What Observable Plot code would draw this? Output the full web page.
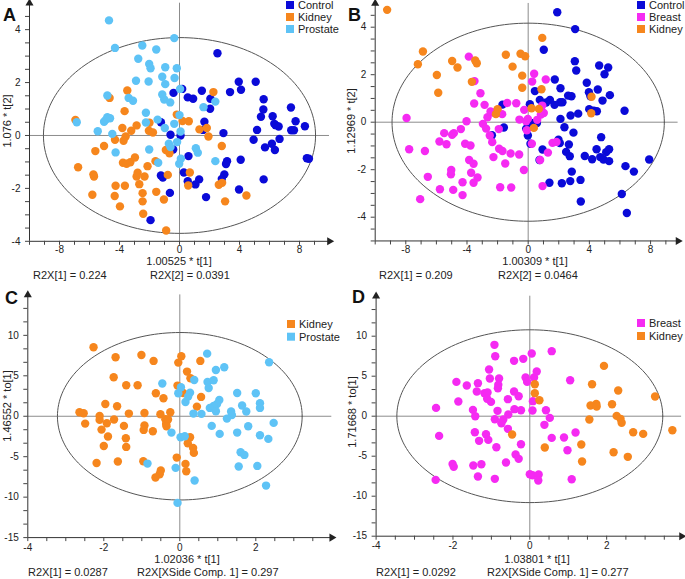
<!DOCTYPE html>
<html><head><meta charset="utf-8">
<script src="https://cdn.jsdelivr.net/npm/d3@7"></script>
<script src="https://cdn.jsdelivr.net/npm/@observablehq/plot@0.6"></script>
<style>
body{margin:0;background:#fff;}
#fig{position:relative;width:685px;height:579px;overflow:hidden;font-family:Arial,"Liberation Sans",sans-serif;}
.panel{position:absolute;}
#overlay{position:absolute;left:0;top:0;pointer-events:none;}
</style></head><body><div id="fig"></div>
<script>
// ---------- DATA (x, y score values) ----------
const aControl = [[2.53,3.11],[-0.40,1.61],[0.18,1.76],[0.55,1.44],[0.91,1.39],[1.49,1.69],[2.06,1.39],[2.04,1.01],[1.66,0.52],[1.57,0.21],[2.93,0.09],[3.37,1.64],[3.95,2.03],[4.10,1.73],[5.08,2.03],[5.61,1.37],[5.59,0.98],[5.43,0.71],[5.17,0.21],[4.94,-0.16],[6.21,0.73],[6.32,0.44],[6.41,0.39],[6.61,0.34],[6.67,-0.13],[7.43,1.06],[7.74,0.54],[7.45,0.20],[7.63,0.20],[8.36,0.35],[5.70,-0.45],[6.16,-0.31],[6.36,-0.55],[8.49,-0.86],[8.63,-0.88],[4.08,-0.92],[3.17,-0.97],[3.10,-1.08],[2.99,-1.47],[2.82,-1.64],[1.31,-1.66],[1.06,-1.85],[0.55,-1.73],[0.29,-1.40],[1.77,-2.33],[3.97,-2.04],[5.61,-1.66],[-1.24,0.50],[-0.60,0.03],[-0.42,-0.53],[0.07,0],[0.60,-0.78],[-1.11,-1.59],[-0.64,-2.17],[-1.93,-3.20],[-1.24,-1.51]];
const aKidney = [[-6.94,0.59],[-3.48,1.70],[-4.66,1.42],[-3.66,0.92],[-2.86,0.38],[-3.81,0.28],[-3.22,0.18],[-2.00,0.48],[-2.04,0.18],[-1.77,0.11],[-3.59,-0.04],[-4.30,-0.16],[-3.73,-0.20],[-5.03,-0.40],[-5.61,-0.59],[-6.76,-1.20],[-5.74,-1.47],[-5.70,-1.55],[-3.77,-1.03],[-3.53,-1.07],[-3.28,-1.01],[-2.97,-0.83],[-2.79,-1.41],[-2.86,-1.55],[-2.13,-1.16],[-1.60,-0.97],[-2.33,-1.55],[-2.68,-1.84],[-4.26,-1.90],[-3.64,-1.90],[-5.81,-2.24],[-4.32,-2.29],[-2.46,-2.18],[-2.46,-2.49],[-1.55,-2.13],[-1.04,-2.42],[-3.97,-2.68],[-2.42,-2.96],[-0.89,-3.59],[-0.78,-1.49],[-0.91,-0.55],[-0.67,-0.67],[-0.18,0.79],[0.20,0.55],[0.62,0.54],[1.33,0.23],[1.82,0.28],[1.93,-0.04],[2.26,1.64],[2.82,-0.40],[0.69,-1.40],[0.58,-1.89],[2.62,-1.86],[2.84,-1.79],[3.04,-2.49],[4.46,-2.27]];
const aProstate = [[-4.70,4.35],[-4.30,3.31],[-2.48,3.40],[-1.55,3.25],[-0.35,3.68],[-2.75,2.90],[-2.02,2.70],[-1.93,2.54],[-0.95,2.58],[-0.18,2.54],[-1.15,2.22],[-0.33,2.17],[-2.90,2.07],[-2.06,2.04],[-0.95,1.94],[0.04,1.76],[-4.81,1.51],[-3.39,1.42],[-3.10,1.31],[-1.15,1.55],[-1.02,1.36],[-0.62,1.25],[-2.24,0.86],[1.60,1.07],[2.39,1.28],[-6.85,0.50],[-5.03,0.52],[-4.81,0.69],[-4.63,0.65],[-4.92,0.59],[-1.46,0.60],[-2.24,0.49],[-0.98,0.28],[-0.35,0.44],[0,0.77],[-5.45,0.16],[-4.48,0.06],[0.07,0.15],[-4.26,-0.64],[-2.02,-0.53],[-0.71,-0.31],[-0.16,-0.25],[-0.60,-0.44],[1.09,-0.48],[1.22,-0.65],[-1.42,-1.03],[0.09,-0.88],[-0.02,-1.07],[2.39,-0.97]];

const bControl = [[1.90,4.63],[3.07,3.92],[1.02,3.05],[3.05,2.57],[3.14,2.18],[4.64,2.39],[5.23,2.30],[4.99,2.02],[3.83,1.66],[4.55,1.38],[3.97,1.26],[4.07,1.09],[4.86,0.91],[5.34,1.14],[3.99,0.55],[4.29,0.48],[4.49,0.46],[6.30,0.48],[1.74,1.80],[2.11,1.43],[1.42,0.94],[0.76,0.94],[0.44,1.31],[0.57,-0.03],[0.11,0.76],[0.20,-0.03],[-0.13,-0.27],[-0.02,-0.56],[-1.68,0.74],[-1.59,-0.22],[-2.37,-0.55],[0.15,-0.91],[0.94,-1.15],[0.74,-1.59],[1.98,-0.74],[2.07,-0.88],[2.09,0.84],[2.24,0.84],[2.11,0.14],[2.61,1.12],[2.83,1.09],[2.77,0.28],[3.27,0.36],[2.37,-0.21],[2.96,-0.44],[2.66,-0.94],[2.48,-1.25],[2.72,-1.43],[2.85,-2.08],[2.75,-2.48],[2.20,-2.57],[1.39,-2.55],[3.42,-2.43],[3.44,-3.34],[3.70,-1.42],[4.18,-1.56],[4.47,-1.14],[4.77,-0.63],[4.71,-1.47],[4.92,-1.57],[5.10,-1.26],[5.29,-1.14],[5.29,-1.64],[7.91,-1.57],[6.36,-1.85],[6.91,-2.08],[6.12,-3.02],[6.45,-3.82],[1.18,0.83],[1.72,0.73]];
const bBreast = [[-3.88,2.76],[-3.51,1.73],[-3.12,1.22],[-3.53,0.79],[-2.85,0.73],[0.39,2.04],[0.26,1.71],[1.15,1.80],[0.92,0.70],[1.02,0.39],[-0.78,0.80],[-0.26,0.52],[-1.37,0.81],[-1.70,0.34],[-2.33,0.41],[-2.66,0.21],[-2.46,0.45],[-4.03,0.04],[-2.96,-0.07],[-7.95,0.18],[-7.78,-1.14],[-6.75,-1.21],[-5.80,-0.81],[-5.49,-0.46],[-5.34,-0.93],[-4.97,-0.53],[-4.86,-0.46],[-4.40,-0.29],[-4.12,-0.91],[-3.77,-0.98],[-3.86,-1.59],[-3.57,-1.75],[-3.73,-2.13],[-3.31,-2.33],[-5.03,-2.01],[-5.05,-2.19],[-4.29,-2.53],[-3.57,-2.55],[-6.56,-2.30],[-5.77,-2.82],[-4.90,-2.85],[-4.29,-3.07],[-7.06,-3.24],[-2.75,-0.27],[-2.51,-0.56],[-2.35,-0.84],[-2.27,-1.47],[-1.90,-1.12],[-1.68,-1.21],[-1.50,-1.74],[-1.15,-1.32],[-0.59,-1.36],[-0.28,-2.01],[-1.83,-2.74],[-1.11,-2.75],[0.94,-2.69],[0.78,-1.59],[1.29,-1.28],[0.24,-0.91],[-0.09,-0.34],[-0.57,0.11],[-0.13,0.04],[1.59,-0.87],[1.85,-0.83],[-0.02,0.14],[0.59,0.10],[0.83,0.32],[-1.92,-0.29]];
const bKidney = [[-9.22,4.73],[-6.88,2.98],[-7.21,2.44],[-4.97,2.58],[-4.62,2.30],[-3.46,2.60],[-3.36,2.48],[-5.97,1.99],[-5.88,1.24],[-3.68,1.70],[-1.46,2.84],[-0.50,2.88],[-0.20,2.78],[-1.02,2.34],[-0.39,1.96],[-0.39,1.45],[0.92,3.55],[0.87,1.39],[-2.00,0.55],[-2.11,0.34],[0.22,0.59],[0.70,0.56],[0.37,-0.24],[4.14,1.07],[4.12,0.38]];

const cKidney = [[-2.27,8.53],[-1.69,7.29],[-1.01,7.58],[-0.69,6.84],[-1.74,4.82],[-1.41,3.83],[-1.11,3.83],[-0.63,2.84],[-0.43,2.22],[-1.96,1.52],[-1.65,1.24],[-2.64,0.49],[-2.53,0.37],[-2.11,0.04],[-1.34,0.33],[-0.93,0.41],[-0.51,0.25],[-0.25,0.49],[-2.49,-0.91],[-2.11,-0.45],[-1.73,-0.41],[-1.92,-0.86],[-1.47,-1.19],[-2.06,-1.65],[-0.93,-1.15],[-0.95,-1.69],[-0.71,-1.85],[-0.38,-0.37],[-0.36,-0.95],[-0.31,-0.41],[-1.89,-2.51],[-1.42,-2.72],[-1.41,-3.79],[-2.00,-3.67],[-2.19,-5.77],[-1.63,-5.60],[-0.96,-5.56],[-0.50,-6.71],[-0.53,-7.17],[-0.64,-7.58],[-0.08,-5.11],[0.15,-5.89],[0.17,-6.80],[0.04,7.41],[-0.04,6.63],[0.54,6.84],[0.19,5.52],[0.28,4.70],[-0.06,3.79],[0.09,2.88],[0.56,2.39],[0.45,1.19],[0.27,-2.59],[0.21,-3.34],[0.35,-3.91],[0.37,-4.53],[-0.35,-1.24]];
const cProstate = [[0.72,7.74],[0.95,5.72],[1.17,6.05],[0.73,4.24],[0.76,3.50],[0.89,4.45],[0.38,4.49],[-0.46,4.04],[0.03,3.58],[-0.04,2.84],[0.27,2.92],[0.22,2.43],[0.15,1.77],[1.04,2.02],[0.98,1.52],[0.89,1.28],[0.79,1.03],[0.95,0.62],[1.51,2.88],[1.64,1.32],[1.75,0.58],[1.35,0.58],[1.37,0.16],[1.24,-0.29],[2.00,2.84],[2.11,1.61],[2.11,1.03],[2.35,6.67],[0.57,0.29],[0.36,0.33],[2.47,-0.82],[0.84,-1.19],[1.05,-2.18],[1.51,-2.02],[1.80,-1.24],[2.11,-2.35],[2.33,-2.80],[-0.22,-2.02],[0.02,-2.59],[0.13,-2.47],[1.60,-4.45],[1.70,-4.78],[1.55,-6.22],[2.04,-6.14],[2.27,-8.57],[-0.85,-5.85],[-0.11,-6.38],[0.39,-7.95],[-0.06,-10.71]];

const dBreast = [[-0.92,8.92],[-0.90,7.50],[-0.41,6.92],[-0.17,7.17],[0.05,7.83],[0.57,8.13],[-1.06,5.83],[-1.04,4.71],[-0.80,4.71],[-0.82,3.92],[-0.83,3.50],[-1.91,4.29],[-1.64,3.83],[-1.35,4.13],[-1.38,3.08],[-1.18,2.88],[-1.10,2.96],[-1.11,2.17],[-1.01,1.79],[-1.86,1.83],[-2.44,1.04],[-1.48,0.79],[-1.42,0],[-0.84,0.67],[-0.91,-0.38],[-0.69,-0.42],[-0.74,-0.88],[-0.57,2.13],[-0.41,3.08],[-0.29,2.50],[-0.40,0.88],[-0.56,0.21],[-0.23,0.75],[-0.11,4.83],[-0.07,4.29],[0.11,4.83],[0.18,5.58],[0.08,1.88],[0.07,0.71],[0.42,0.75],[0.52,-0.21],[0.38,-1.08],[0.57,-2.71],[1.05,4.50],[-1.43,-2.00],[-1.32,-3.08],[-1.14,-2.25],[-1.08,-2.96],[-0.57,-1.58],[-0.87,-3.88],[-0.23,-3.50],[-0.37,-4.79],[-0.29,-5.33],[-2.36,-2.46],[-2.01,-5.96],[-1.98,-6.33],[-1.47,-6.17],[-1.26,-6.00],[-1.35,-7.54],[-0.91,-7.83],[-0.62,-5.79],[-2.45,-7.96],[0,-7.25],[0.07,-7.38],[0.23,-7.29],[0.22,-8.04],[0.98,-4.25],[1.09,-7.88],[0.89,-2.67],[1.19,-2.04]];
const dKidney = [[0.13,4.00],[0.13,2.88],[0.25,2.00],[-0.46,-2.29],[0.39,-3.92],[1.34,-3.54],[1.36,-5.67],[1.62,4.00],[1.58,1.33],[1.73,1.54],[1.74,1.21],[1.55,-0.42],[1.93,6.29],[2.14,1.50],[2.30,3.21],[2.26,0.04],[2.36,-0.33],[2.39,-0.83],[2.69,-2.00],[2.95,-2.21],[3.26,2.46],[3.71,-1.75],[2.18,-4.50],[2.55,-5.08]];

// group names per panel (legend order = draw order)
const groupsA = ["Control", "Kidney", "Prostate"];
const groupsB = ["Control", "Breast", "Kidney"];
const groupsC = ["Kidney", "Prostate"];
const groupsD = ["Breast", "Kidney"];

// Hotelling T2 ellipse radii [x, y]
const ellipseA = [9.07, 3.70];
const ellipseB = [8.90, 4.17];
const ellipseC = [3.22, 10.35];
const ellipseD = [3.46, 10.80];

// axis titles and fit statistics
const xTitles = ["1.00525 * t[1]", "1.00309 * t[1]", "1.02036 * t[1]", "1.03801 * t[1]"];
const yTitles = ["1.076 * t[2]", "1.12969 * t[2]", "1.46552 * to[1]", "1.71668 * to[1]"];
const r2Left = ["R2X[1] = 0.224", "R2X[1] = 0.209", "R2X[1] = 0.0287", "R2X[1] = 0.0292"];
const r2Right = ["R2X[2] = 0.0391", "R2X[2] = 0.0464", "R2X[XSide Comp. 1] = 0.297", "R2X[XSide Comp. 1] = 0.277"];
const panelLetters = ["A", "B", "C", "D"];

// ---------- STYLE / LAYOUT ----------
const colors = {Control: "#0a0ad8", Kidney: "#f6861d", Prostate: "#5ec3f6", Breast: "#f52af2"};
const font = 'Arial, "Liberation Sans", sans-serif';

const panels = [
  {left: 0, top: 0, width: 342, height: 290, x: [-10, 10], y: [-4, 5], m: [2.7, 13, 49.2, 29], pad: 0.8,
   xStep: 1, xLab: 4, yStep: 0.5, yLab: 2, ell: ellipseA, groups: groupsA, data: [aControl, aKidney, aProstate]},
  {left: 340, top: 0, width: 345, height: 290, x: [-10, 9.8], y: [-5, 5], m: [2.95, 7.4, 49.55, 34.7], pad: 0.8,
   xStep: 1, xLab: 4, yStep: 0.5, yLab: 2, ell: ellipseB, groups: groupsB, data: [bControl, bBreast, bKidney]},
  {left: 0, top: 285, width: 342, height: 294, x: [-4, 4], y: [-15, 15], m: [9.4, 10.7, 41.9, 27.3], pad: 1.8,
   xStep: 0.5, xLab: 2, yStep: 5/3, yLab: 5, ell: ellipseC, groups: groupsC, data: [cKidney, cProstate]},
  {left: 340, top: 285, width: 345, height: 294, x: [-4, 3.95], y: [-15, 15], m: [10.7, 3.9, 43.3, 35.6], pad: 1.8,
   xStep: 0.5, xLab: 2, yStep: 5/3, yLab: 5, ell: ellipseD, groups: groupsD, data: [dBreast, dKidney]}
];

const fig = document.getElementById("fig");

function tickValues(lo, hi, step) {
  const n = Math.floor((hi - lo) / step + 1e-9);
  return d3.range(0, n + 1).map(i => +(lo + i * step).toFixed(6)).filter(v => v < hi - 1e-9);
}
function labelFmt(lab) {
  return d => Math.abs(d / lab - Math.round(d / lab)) < 1e-6 ? String(Math.round(d)) : "";
}

panels.forEach(p => {
  const ell = d3.range(0, 361, 2).map(a => ({x: p.ell[0] * Math.cos(a * Math.PI / 180), y: p.ell[1] * Math.sin(a * Math.PI / 180)}));
  const marks = [
    Plot.ruleY([0], {stroke: "#8c8c8c", strokeWidth: 1}),
    Plot.ruleX([0], {stroke: "#8c8c8c", strokeWidth: 1}),
    Plot.line(ell, {x: "x", y: "y", stroke: "#555", strokeWidth: 1}),
    ...p.groups.map((g, i) => Plot.dot(p.data[i], {x: d => d[0], y: d => d[1], r: 4.2, fill: colors[g]})),
    Plot.ruleY([p.y[0]], {stroke: "#333", strokeWidth: 1}),
    Plot.ruleX([p.x[0]], {stroke: "#333", strokeWidth: 1}),
    Plot.dot([[p.x[0], p.y[1]]], {x: d => d[0], y: d => d[1], symbol: "triangle", r: 3, fill: "#222"}),
    Plot.dot([[p.x[1], p.y[0]]], {x: d => d[0], y: d => d[1], symbol: "triangle", r: 3, fill: "#222", rotate: 90}),
    Plot.axisX({ticks: tickValues(p.x[0], p.x[1], p.xStep), tickFormat: labelFmt(p.xLab), tickSize: 4, tickPadding: p.pad, label: null, stroke: "#444", fontSize: 10}),
    Plot.axisY({ticks: tickValues(p.y[0], p.y[1], p.yStep), tickFormat: labelFmt(p.yLab), tickSize: 4, tickPadding: 5, label: null, stroke: "#444", fontSize: 10})
  ];
  const svg = Plot.plot({
    width: p.width, height: p.height,
    marginTop: p.m[0], marginRight: p.m[1], marginBottom: p.m[2], marginLeft: p.m[3],
    x: {domain: p.x}, y: {domain: p.y},
    style: {fontFamily: font, fontSize: "10px", color: "#222", background: "transparent", overflow: "visible"},
    marks
  });
  const div = document.createElement("div");
  div.className = "panel";
  div.style.left = p.left + "px";
  div.style.top = p.top + "px";
  div.appendChild(svg);
  fig.appendChild(div);
});

// ---------- annotations (titles, legends, statistics) ----------
const ov = d3.select(fig).append("svg").attr("id", "overlay").attr("width", 685).attr("height", 579)
  .style("font-family", font).style("font-size", "11px").attr("fill", "#222");

const letterPos = [[3, 21], [348, 21], [5, 304], [352, 303]];
const xTitlePos = [[179, 265], [535, 265], [187, 563], [537, 563]];
const r2Pos = [[33, 150, 278.5], [379, 498, 278.5], [28, 137, 575.5], [376, 487, 575.5]];
const yTitlePos = [[7, 121], [351.5, 121], [7, 406], [352, 412]];
const legendPos = [[286, 5], [637, 5], [287, 324], [637, 323]];
const legendGap = [12, 12, 12.7, 13];

panels.forEach((p, i) => {
  ov.append("text").attr("x", letterPos[i][0]).attr("y", letterPos[i][1])
    .attr("font-size", 18).attr("font-weight", "bold").attr("fill", "#111").text(panelLetters[i]);
  ov.append("text").attr("x", xTitlePos[i][0]).attr("y", xTitlePos[i][1]).attr("text-anchor", "middle").text(xTitles[i]);
  ov.append("text").attr("x", r2Pos[i][0]).attr("y", r2Pos[i][2]).text(r2Left[i]);
  ov.append("text").attr("x", r2Pos[i][1]).attr("y", r2Pos[i][2]).text(r2Right[i]);
  ov.append("text").attr("transform", `translate(${yTitlePos[i][0]},${yTitlePos[i][1]}) rotate(-90)`)
    .attr("text-anchor", "middle").attr("dy", "0.35em").text(yTitles[i]);
  p.groups.forEach((g, k) => {
    const cy = legendPos[i][1] + k * legendGap[i];
    ov.append("rect").attr("x", legendPos[i][0]).attr("y", cy - 4).attr("width", 8).attr("height", 8).attr("fill", colors[g]);
    ov.append("text").attr("x", legendPos[i][0] + 12).attr("y", cy + 4).text(g);
  });
});
</script></body></html>
